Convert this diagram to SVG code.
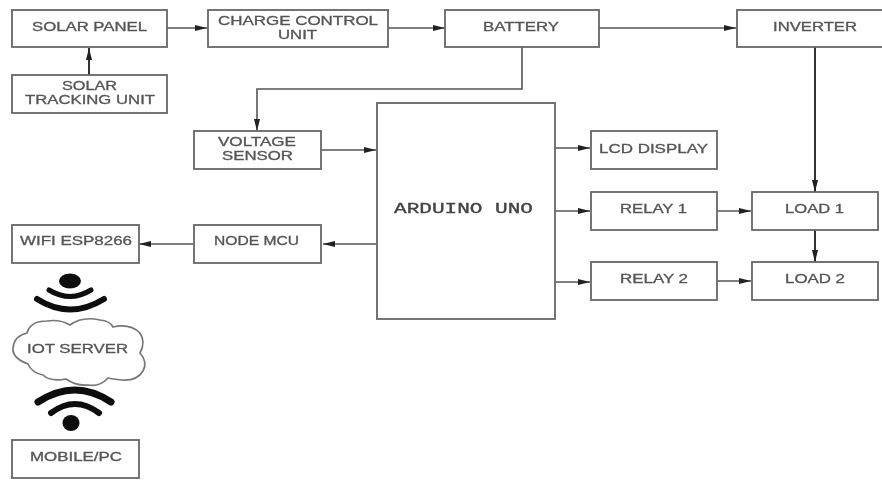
<svg xmlns="http://www.w3.org/2000/svg" width="882" height="480" viewBox="0 0 882 480">
<defs>
<marker id="a" markerUnits="userSpaceOnUse" markerWidth="12" markerHeight="8" refX="12" refY="4" orient="auto"><path d="M0 1L12 4L0 7z" fill="#222"/></marker>
<filter id="soft" x="-5%" y="-5%" width="110%" height="110%"><feGaussianBlur stdDeviation="0.55"/></filter>
</defs>
<style>
.b{fill:#fff;stroke:#666;stroke-width:1.8}
.t{font-family:"Liberation Sans",Arial,sans-serif;font-size:12px;fill:#555;stroke:#555;stroke-width:.3}
.m{font-family:"Liberation Mono","Courier New",monospace;font-size:14px;fill:#444;stroke:#444;stroke-width:.35}
.c{fill:none;stroke:#555;stroke-width:1.6}
.d{fill:none;stroke:#333;stroke-width:2}
.w{fill:none;stroke:#111;stroke-width:6;stroke-linecap:round}
</style>
<rect width="882" height="480" fill="#fff"/>
<g filter="url(#soft)">
<g id="connectors">
<path class="c" d="M167 28H207" marker-end="url(#a)"/>
<path class="c" d="M388 28H445" marker-end="url(#a)"/>
<path class="c" d="M599 28H736" marker-end="url(#a)"/>
<path class="d" d="M89 75V48" marker-end="url(#a)"/>
<path class="c" d="M522 47V89H257V131" marker-end="url(#a)"/>
<path class="d" d="M815 47V192" marker-end="url(#a)"/>
<path class="c" d="M321 150H376" marker-end="url(#a)"/>
<path class="c" d="M555 148H590" marker-end="url(#a)"/>
<path class="c" d="M555 211H590" marker-end="url(#a)"/>
<path class="c" d="M555 282H590" marker-end="url(#a)"/>
<path class="c" d="M717 211H751" marker-end="url(#a)"/>
<path class="c" d="M717 281H751" marker-end="url(#a)"/>
<path class="d" d="M815 230V262" marker-end="url(#a)"/>
<path class="c" d="M376 244H323" marker-end="url(#a)"/>
<path class="c" d="M193 244H139" marker-end="url(#a)"/>
</g>
<g id="solar-panel"><rect class="b" x="12" y="10" width="155" height="37"/><text class="t" x="32" y="31" textLength="115" lengthAdjust="spacingAndGlyphs">SOLAR PANEL</text></g>
<g id="solar-tracking"><rect class="b" x="12" y="75" width="155" height="38"/><text class="t" x="62" y="90" textLength="55" lengthAdjust="spacingAndGlyphs">SOLAR</text><text class="t" x="25" y="104" textLength="130" lengthAdjust="spacingAndGlyphs">TRACKING UNIT</text></g>
<g id="charge-control"><rect class="b" x="208" y="10" width="180" height="37"/><text class="t" x="218" y="25" textLength="160" lengthAdjust="spacingAndGlyphs">CHARGE CONTROL</text><text class="t" x="278" y="39" textLength="39" lengthAdjust="spacingAndGlyphs">UNIT</text></g>
<g id="battery"><rect class="b" x="445" y="10" width="154" height="37"/><text class="t" x="483" y="31" textLength="76" lengthAdjust="spacingAndGlyphs">BATTERY</text></g>
<g id="inverter"><rect class="b" x="737" y="10" width="150" height="37"/><text class="t" x="773" y="31" textLength="84" lengthAdjust="spacingAndGlyphs">INVERTER</text></g>
<g id="voltage-sensor"><rect class="b" x="194" y="131" width="127" height="38"/><text class="t" x="218" y="146" textLength="78" lengthAdjust="spacingAndGlyphs">VOLTAGE</text><text class="t" x="222" y="160" textLength="71" lengthAdjust="spacingAndGlyphs">SENSOR</text></g>
<g id="arduino"><rect class="b" x="377" y="103" width="178" height="216"/><text class="m" x="394" y="213" textLength="139" lengthAdjust="spacingAndGlyphs">ARDUINO UNO</text></g>
<g id="lcd"><rect class="b" x="591" y="131" width="126" height="38"/><text class="t" x="599" y="153" textLength="109" lengthAdjust="spacingAndGlyphs">LCD DISPLAY</text></g>
<g id="relay1"><rect class="b" x="591" y="192" width="126" height="38"/><text class="t" x="620" y="213" textLength="67" lengthAdjust="spacingAndGlyphs">RELAY 1</text></g>
<g id="relay2"><rect class="b" x="591" y="262" width="126" height="38"/><text class="t" x="620" y="283" textLength="68" lengthAdjust="spacingAndGlyphs">RELAY 2</text></g>
<g id="load1"><rect class="b" x="752" y="192" width="126" height="38"/><text class="t" x="785" y="213" textLength="59" lengthAdjust="spacingAndGlyphs">LOAD 1</text></g>
<g id="load2"><rect class="b" x="752" y="262" width="126" height="38"/><text class="t" x="785" y="283" textLength="60" lengthAdjust="spacingAndGlyphs">LOAD 2</text></g>
<g id="node-mcu"><rect class="b" x="194" y="225" width="127" height="38"/><text class="t" x="214" y="245" textLength="85" lengthAdjust="spacingAndGlyphs">NODE MCU</text></g>
<g id="wifi-esp"><rect class="b" x="12" y="225" width="127" height="38"/><text class="t" x="20" y="245" textLength="112" lengthAdjust="spacingAndGlyphs">WIFI ESP8266</text></g>
<g id="wifi-top"><ellipse cx="70" cy="281" rx="11" ry="7.5" fill="#111"/><path class="w" style="stroke-width:5" d="M49 290Q70 303 91 290"/><path class="w" d="M37 299Q70 320 104 299"/></g>
<g id="iot-server"><path d="M13 348Q14 336 27 333Q30 321 47 321Q60 319 70 325Q82 316 100 320Q110 321 113 327Q130 323 140 333Q146 342 140 353Q148 362 143 371Q137 381 122 380Q112 379 108 378Q100 387 88 385Q76 386 66 379Q50 382 43 375Q32 373 28 364Q12 358 13 348Z" fill="#fff" stroke="#777" stroke-width="1.7"/><text class="t" x="27" y="353" textLength="101" lengthAdjust="spacingAndGlyphs">IOT SERVER</text></g>
<g id="wifi-bottom"><path class="w" style="stroke-width:7" d="M38 402Q75 378 111 402"/><path class="w" d="M51 413Q75 395 99 413"/><ellipse cx="71" cy="423" rx="8.5" ry="8" fill="#111"/></g>
<g id="mobile-pc"><rect class="b" x="12" y="440" width="127" height="38"/><text class="t" x="30" y="461" textLength="92" lengthAdjust="spacingAndGlyphs">MOBILE/PC</text></g>
</g>
</svg>
